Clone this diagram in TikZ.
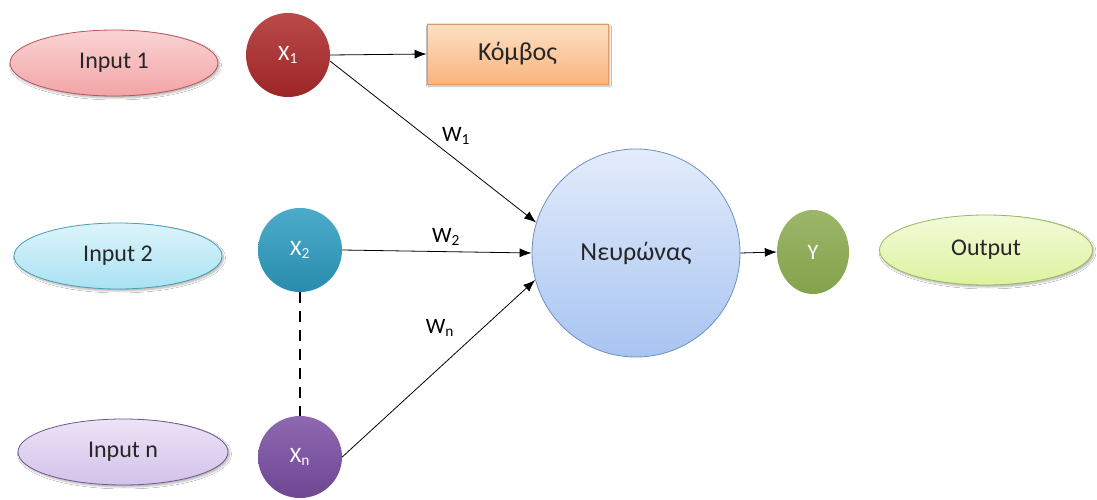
\documentclass[tikz,border=0pt]{standalone}
\usepackage{fontspec}
\setmainfont{Carlito}
\usetikzlibrary{shapes.geometric,arrows.meta,shadows.blur}
\definecolor{inOneTop}{HTML}{FBD3D3}
\definecolor{inOneBot}{HTML}{F2A4A6}
\definecolor{inOneLine}{HTML}{B9565A}
\definecolor{inTwoTop}{HTML}{DDF4FB}
\definecolor{inTwoBot}{HTML}{A9E2F3}
\definecolor{inTwoLine}{HTML}{4A9DB8}
\definecolor{inNTop}{HTML}{EDE3F6}
\definecolor{inNBot}{HTML}{D3C2EA}
\definecolor{inNLine}{HTML}{6E5A91}
\definecolor{outTop}{HTML}{F2FBD8}
\definecolor{outBot}{HTML}{DDF29F}
\definecolor{outLine}{HTML}{98B95A}
\definecolor{xOne}{HTML}{AE2A2A}
\definecolor{xTwo}{HTML}{2D9CC1}
\definecolor{xN}{HTML}{7A4EA3}
\definecolor{yCol}{HTML}{8BAA4F}
\definecolor{boxTop}{HTML}{FDE0C4}
\definecolor{boxBot}{HTML}{F9B47C}
\definecolor{boxLine}{HTML}{DE9A62}
\definecolor{neuTop}{HTML}{E3ECFB}
\definecolor{neuBot}{HTML}{A8C4F1}
\definecolor{neuLine}{HTML}{6F8FC4}
\begin{document}
\begin{tikzpicture}[x=1pt,y=-1pt,
  inputnode/.style={ellipse,minimum width=208pt,minimum height=66pt,inner sep=0pt,
    line width=0.8pt,font=\fontsize{24}{26}\selectfont,text=black!85,
    blur shadow={shadow xshift=1.5pt,shadow yshift=-2pt,shadow blur steps=6,shadow opacity=30}},
  xnode/.style={ellipse,minimum width=84pt,minimum height=84pt,inner sep=0pt,
    text=white,font=\fontsize{22}{24}\selectfont},
  wlabel/.style={font=\fontsize{22}{24}\selectfont},
  arr/.style={-{Latex[length=12pt,width=9pt]},line width=0.8pt}]
\useasboundingbox (0,0) rectangle (1097,500);
\fill[white] (0,0) rectangle (1097,500);

% input ellipses
\node[inputnode,top color=inOneTop,bottom color=inOneBot,draw=inOneLine] (in1) at (114,63) {Input 1};
\node[inputnode,top color=inTwoTop,bottom color=inTwoBot,draw=inTwoLine] (in2) at (118,256) {Input 2};
\node[inputnode,top color=inNTop,bottom color=inNBot,draw=inNLine,minimum width=210pt] (inn) at (123,452) {Input n};

% input signals
\node[xnode,top color=xOne!85!white,bottom color=xOne!90!black] (x1) at (288,55) {X\textsubscript{1}};
\node[xnode,top color=xTwo!85!white,bottom color=xTwo!90!black] (x2) at (300,250) {X\textsubscript{2}};
\node[xnode,top color=xN!85!white,bottom color=xN!90!black,minimum height=82pt] (xn) at (300,457) {X\textsubscript{n}};

% node box
\node[rectangle,minimum width=181pt,minimum height=60pt,inner sep=0pt,
  top color=boxTop,bottom color=boxBot,draw=boxLine,line width=0.8pt,
  font=\fontsize{26}{28}\selectfont,text=black!85,
  blur shadow={shadow xshift=1.5pt,shadow yshift=-2pt,shadow blur steps=6,shadow opacity=30}] (box) at (517.5,54) {Κόμβος};

% neuron
\node[circle,minimum size=208pt,inner sep=0pt,top color=neuTop,bottom color=neuBot,
  draw=neuLine,line width=0.8pt,font=\fontsize{26}{28}\selectfont,text=black!85] (neu) at (636,253) {Νευρώνας};

% output
\node[xnode,minimum width=72pt,top color=yCol!85!white,bottom color=yCol!95!black] (y) at (813,252) {Y};
\node[inputnode,top color=outTop,bottom color=outBot,draw=outLine,minimum width=213pt,minimum height=70pt] (out) at (986,250) {Output};

% connections
\draw[arr] (x1.east) -- (box.west);
\draw[arr] (x1.-8) -- (neu.163);
\draw[arr] (x2.east) -- (neu.west);
\draw[arr] (xn.east) -- (neu.195);
\draw[arr] (neu.east) -- (y.west);
\draw[line width=2pt,dash pattern=on 11pt off 8pt] (x2.south) -- (xn.north);

% weights
\node[wlabel] (w1) at (456,136) {W\textsubscript{1}};
\node[wlabel] (w2) at (446,237) {W\textsubscript{2}};
\node[wlabel] (wn) at (440,328) {W\textsubscript{n}};
\end{tikzpicture}
\end{document}
